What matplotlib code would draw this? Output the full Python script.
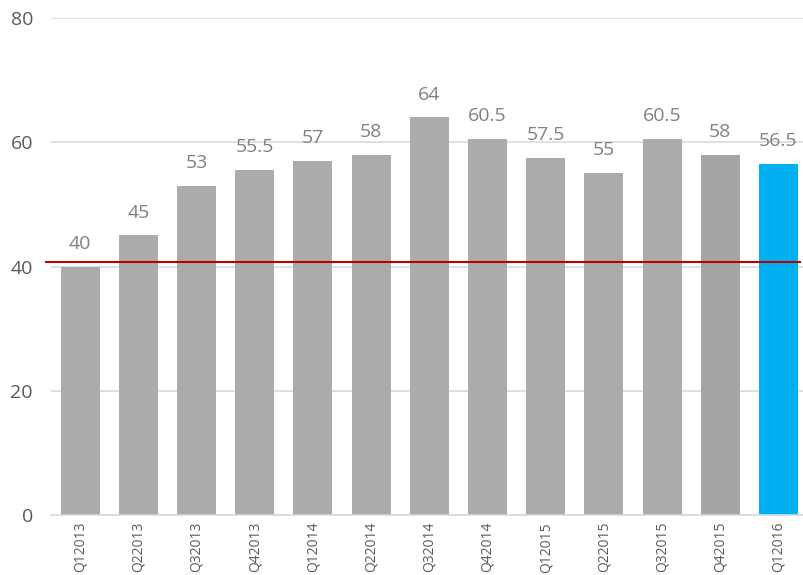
import matplotlib
matplotlib.use("Agg")
import matplotlib.pyplot as plt

categories = ["Q12013", "Q22013", "Q32013", "Q42013", "Q12014", "Q22014", "Q32014",
              "Q42014", "Q12015", "Q22015", "Q32015", "Q42015", "Q12016"]
values = [40, 45, 53, 55.5, 57, 58, 64, 60.5, 57.5, 55, 60.5, 58, 56.5]
value_labels = ["40", "45", "53", "55.5", "57", "58", "64", "60.5", "57.5", "55", "60.5", "58", "56.5"]
reference_value = 40.7
yticks = [0, 20, 40, 60, 80]

colors = ["#ababab"] * len(values)
colors[11] = "#a5a5a5"
colors[-1] = "#00b0f0"

plt.rcParams['font.family'] = ['Open Sans', 'DejaVu Sans']

fig = plt.figure(figsize=(8.04, 5.75), dpi=100)
ax = fig.add_axes([51/804, 60/575, (804-51)/804, (515-18)/575])

x = list(range(len(values)))
bars = ax.bar(x, values, width=0.67, color=colors, zorder=2)

for xi, v, lab in zip(x, values, value_labels):
    ax.annotate(lab, (xi, v), xytext=(0, 10), textcoords="offset points",
                ha="center", va="bottom", fontsize=14, color="#808080")

ax.set_ylim(0, 80)
ax.set_xlim(-0.5, 12.44)
ax.set_yticks(yticks)
ax.set_yticklabels([str(t) for t in yticks], fontsize=14, color="#595959")
ax.set_xticks(x)
ax.set_xticklabels(categories, rotation=90, fontsize=10, color="#595959")
ax.tick_params(axis="both", length=0)
ax.tick_params(axis="y", pad=13)
ax.tick_params(axis="x", pad=5)

ax.yaxis.grid(True, color="#d9d9d9", linewidth=1.2, zorder=0)
ax.set_axisbelow(True)
for s in ["top", "right", "left"]:
    ax.spines[s].set_visible(False)
ax.spines["bottom"].set_color("#d9d9d9")
ax.spines["bottom"].set_linewidth(1.2)

ax.axhline(reference_value, xmin=-0.006, xmax=0.995, color="#c00000", linewidth=1.5, zorder=3, clip_on=False)

fig.savefig("out.png", dpi=100)
